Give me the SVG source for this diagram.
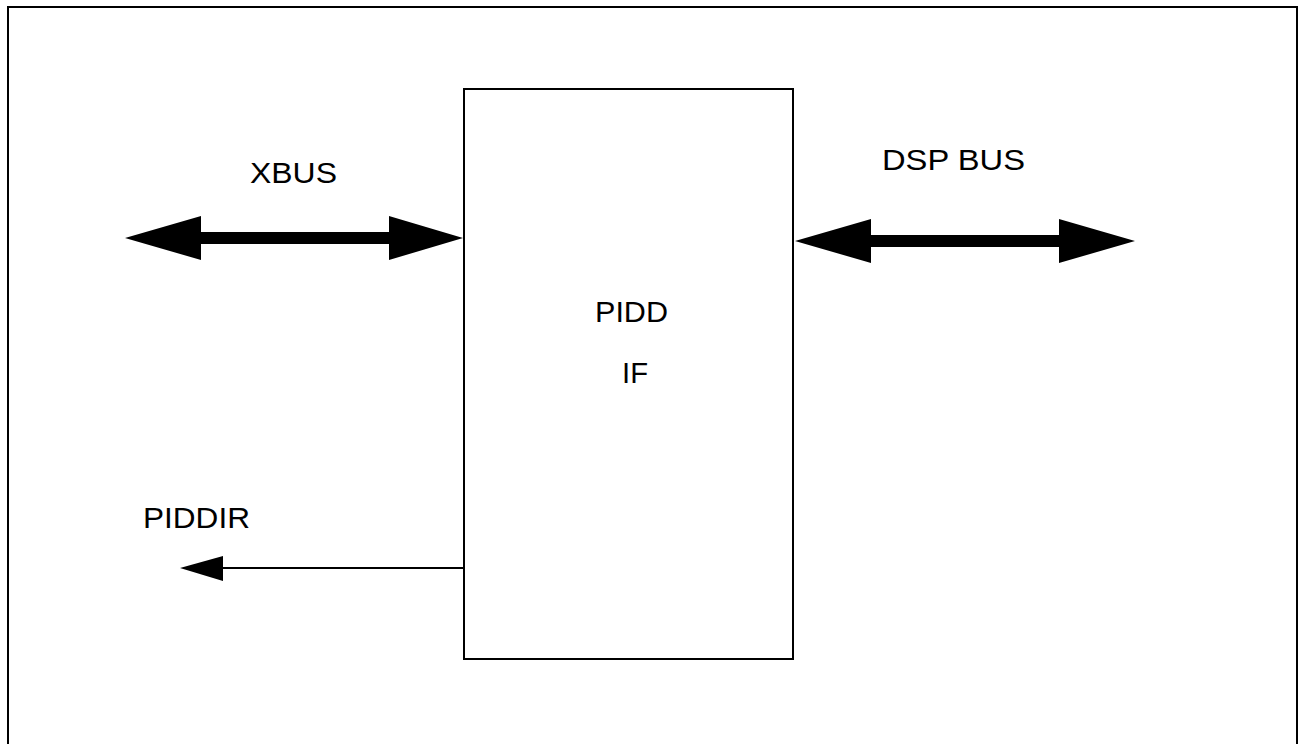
<svg xmlns="http://www.w3.org/2000/svg" width="1299" height="744" viewBox="0 0 1299 744">
<style>
.lbl{font-family:"Liberation Sans",Arial,sans-serif;font-size:30px;fill:#000}
.box{fill:#fff;stroke:#000;stroke-width:2}
.ar{fill:#000;stroke:none}
</style>
<rect width="1299" height="744" fill="#fff"/>
<rect x="8" y="7" width="1289" height="800" fill="none" stroke="#000" stroke-width="2"/>
<g id="pidd-if">
<rect class="box" x="464" y="89" width="329" height="570"/>
<text class="lbl" x="595" y="322" textLength="73" lengthAdjust="spacingAndGlyphs">PIDD</text>
<text class="lbl" x="622" y="383" textLength="26" lengthAdjust="spacingAndGlyphs">IF</text>
</g>
<g id="labels">
<text class="lbl" x="250" y="183" textLength="87" lengthAdjust="spacingAndGlyphs">XBUS</text>
<text class="lbl" x="882" y="170" textLength="143" lengthAdjust="spacingAndGlyphs">DSP BUS</text>
<text class="lbl" x="143" y="528" textLength="107" lengthAdjust="spacingAndGlyphs">PIDDIR</text>
</g>
<g id="connectors">
<polygon class="ar" points="125,238 201,216 201,232 389,232 389,216 463,238 389,260 389,244 201,244 201,260"/>
<polygon class="ar" points="795,241 871,219 871,235 1059,235 1059,219 1135,241 1059,263 1059,247 871,247 871,263"/>
<line x1="222" y1="568" x2="465" y2="568" stroke="#000" stroke-width="2"/>
<polygon class="ar" points="180,568 223,556 223,581"/>
</g>
</svg>
